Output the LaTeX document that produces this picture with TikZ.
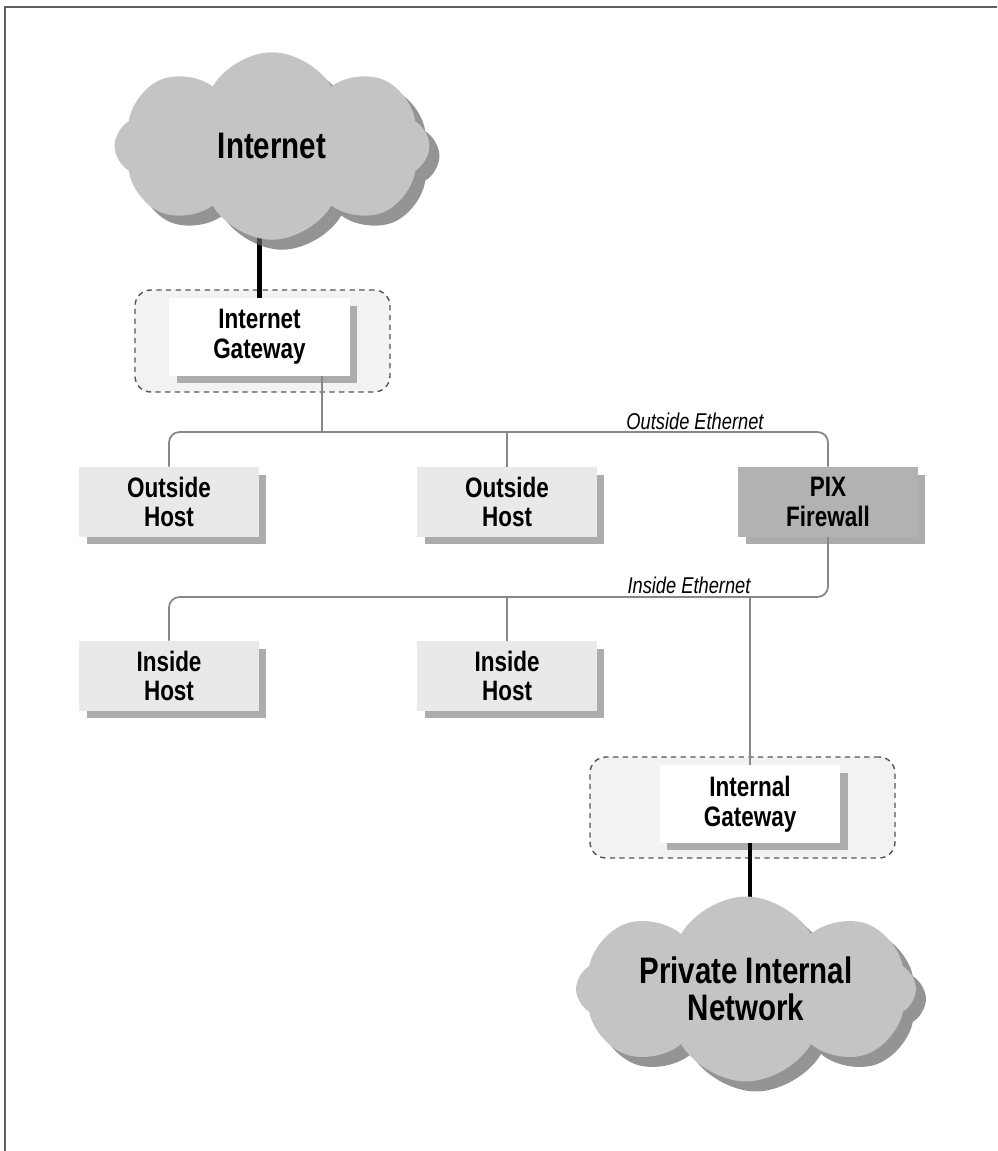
\documentclass[tikz,border=0pt]{standalone}
\usepackage{fontspec}
\setmainfont{Liberation Sans}[FakeStretch=0.8]
\usepackage{tikz}
\usetikzlibrary{calc,positioning,shapes.symbols,shadows}
\definecolor{netgray}{RGB}{196,196,196}
\definecolor{hostfill}{RGB}{233,233,233}
\definecolor{pixfill}{RGB}{178,178,178}
\definecolor{zonefill}{RGB}{242,242,242}
\definecolor{wiregray}{RGB}{135,135,135}
\definecolor{dashgray}{RGB}{85,85,85}
\definecolor{framegray}{RGB}{95,95,95}
\pgfdeclarelayer{front}
\pgfsetlayers{main,front}

\begin{document}
\begin{tikzpicture}[x=0.02cm,y=-0.02cm,
    box/.style={minimum width=3.6cm,minimum height=1.4cm,align=center,
      font=\bfseries\fontsize{16}{17}\selectfont,
      drop shadow={shadow xshift=0.15cm,shadow yshift=-0.15cm,fill=gray!65,opacity=1}},
    host/.style={box,fill=hostfill},
    gw/.style={box,fill=white,minimum width=3.62cm,minimum height=1.56cm},
    zone/.style={draw=dashgray,line width=0.8pt,dash pattern=on 3pt off 2.5pt,
      rounded corners=9pt,fill=zonefill},
    net/.style={cloud,cloud puffs=8,cloud puff arc=120,cloud ignores aspect,
      fill=netgray,align=center,font=\bfseries\fontsize{21}{21}\selectfont,
      drop shadow={shadow xshift=0.2cm,shadow yshift=-0.2cm,fill=gray!80!black,opacity=0.7}},
    wire/.style={wiregray,line width=1pt,rounded corners=6pt},
    uplink/.style={black,line width=2.3pt},
    ethlabel/.style={font=\itshape\fontsize{13}{13}\selectfont}]
  \useasboundingbox (0,0) rectangle (997,1151);
  \draw[framegray,line width=1.2pt] (5,1151) -- (5,7) -- (997,7);

  % gateway zones
  \node[zone,minimum width=5.1cm,minimum height=2.04cm] (igwzone) at (262.5,341) {};
  \node[zone,minimum width=6.1cm,minimum height=2.02cm] (ngwzone) at (742.5,807.5) {};

  \node[gw] (igw) at (259.5,337) {Internet\\Gateway};
  \node[gw] (ngw) at (750,804) {Internal\\Gateway};

  \node[host] (oh1) at (169,502) {Outside\\Host};
  \node[host] (oh2) at (507,502) {Outside\\Host};
  \node[host,fill=pixfill] (pix) at (828,502) {PIX\\Firewall};
  \node[host] (ih1) at (169,676) {Inside\\Host};
  \node[host] (ih2) at (507,676) {Inside\\Host};

  \begin{pgfonlayer}{front}
    \node[net,minimum width=6.3cm,minimum height=3.75cm] (internet) at (272,146) {Internet};
    \node[net,minimum width=6.8cm,minimum height=3.7cm] (private) at (746,989) {Private Internal\\Network};
  \end{pgfonlayer}

  % ethernet segments
  \coordinate (obus) at (0,432);
  \coordinate (ibus) at (0,597);
  \coordinate (otap) at (322,432);
  \draw[wire] (oh1.north) |- (pix.north |- obus) -- (pix.north);
  \draw[wire] (oh2.north) -- (oh2.north |- obus);
  \draw[wire] (igw.south -| otap) -- (otap);
  \draw[wire] (pix.south) |- (ih1.north |- ibus) -- (ih1.north);
  \draw[wire] (ih2.north) -- (ih2.north |- ibus);
  \draw[wire] (ngw.north) -- (ngw.north |- ibus);
  \node[ethlabel] (olabel) at (695,421) {Outside Ethernet};
  \node[ethlabel] (ilabel) at (689,585) {Inside Ethernet};

  \draw[uplink] (igw.north) -- (igw.north |- internet.center);
  \draw[uplink] (ngw.south) -- (ngw.south |- private.center);
\end{tikzpicture}
\end{document}
